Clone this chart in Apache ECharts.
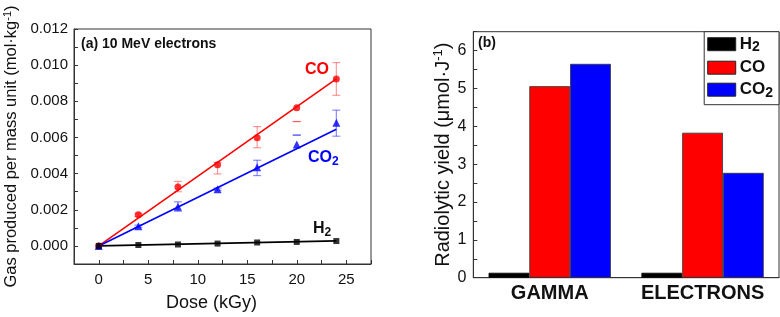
<!DOCTYPE html>
<html><head><meta charset="utf-8">
<script src="https://cdn.jsdelivr.net/npm/echarts@6/dist/echarts.min.js"></script>
<style>html,body{margin:0;padding:0;background:#fff}#c{width:780px;height:317px}</style>
</head><body><div id="c"></div>
<script>
// ---- Panel (a): gas produced vs dose ----
const doses = [0, 4, 8, 12, 16, 20, 24];
const coVals  = [0, 0.00172, 0.00326, 0.00449, 0.00598, 0.00764, 0.00924];
const co2Vals = [0, 0.00109, 0.00217, 0.00314, 0.00435, 0.00561, 0.00682];
const h2Vals  = [0, 0.00005, 0.00008, 0.00013, 0.00019, 0.00022, 0.00027];
// error bars [dose, low, high]
const coErr  = [[4,0.00163,0.00181],[8,0.00300,0.00357],[12,0.00398,0.00461],[16,0.00543,0.00660],[20,0.00688,0.00688],[24,0.00833,0.01014]];
const co2Err = [[4,0.00103,0.00115],[8,0.00192,0.00244],[12,0.00308,0.00320],[16,0.00389,0.00474],[20,0.00613,0.00613],[24,0.00607,0.00751]];
// linear fits [dose, value]
const coFit  = [[0,0],[24,0.00924]];
const co2Fit = [[0,0],[24,0.00645]];
const h2Fit  = [[0,0],[24,0.00028]];

// ---- Panel (b): radiolytic yield ----
const sources = ['GAMMA', 'ELECTRONS'];
const yieldH2  = [0.13, 0.13];
const yieldCO  = [5.06, 3.83];
const yieldCO2 = [5.65, 2.77];

const FONT = 'Liberation Sans, Arial, sans-serif';
const chart = echarts.init(document.getElementById('c'));

function pairs(xs, ys){ return xs.map((x,i)=>[x, ys[i]]); }
function errRender(color){
  return function(params, api){
    const x = api.value(0), lo = api.value(1), hi = api.value(2);
    const p1 = api.coord([x, hi]), p2 = api.coord([x, lo]);
    const w = 4;
    const st = {stroke: color, lineWidth: 1.2};
    const ch = [
      {type:'line', shape:{x1:p1[0]-w,y1:p1[1],x2:p1[0]+w,y2:p1[1]}, style:st},
      {type:'line', shape:{x1:p2[0]-w,y1:p2[1],x2:p2[0]+w,y2:p2[1]}, style:st}
    ];
    if (Math.abs(p1[1]-p2[1]) > 0.5) ch.push({type:'line', shape:{x1:p1[0],y1:p1[1],x2:p2[0],y2:p2[1]}, style:st});
    return {type:'group', children: ch};
  };
}

const axisCol = '#333';
const option = {
  animation: false,
  backgroundColor: '#fff',
  textStyle: {fontFamily: FONT},
  grid: [
    {left: 74, top: 29, right: 409, bottom: 48.7, show: true, borderColor: axisCol, borderWidth: 1, backgroundColor: 'transparent'},
    {left: 473.3, top: 31.7, right: 1, bottom: 39.3, show: true, borderColor: axisCol, borderWidth: 1, backgroundColor: 'transparent'}
  ],
  xAxis: [
    {type: 'value', gridIndex: 0, min: -2.5, max: 27.5, interval: 2.5,
     axisLine: {onZero: false, lineStyle: {color: axisCol}}, axisTick: {inside: true, length: 4, lineStyle:{color: axisCol}},
     splitLine: {show: false},
     axisLabel: {color: '#111', fontSize: 15, fontFamily: FONT, margin: 8,
       formatter: v => (v >= 0 && Math.abs(v % 5) < 1e-9) ? String(v) : ''},
     name: 'Dose (kGy)', nameLocation: 'middle', nameGap: 30,
     nameTextStyle: {fontSize: 18, color: '#111', fontFamily: FONT, padding: [0, 22, 0, 0]}},
    {type: 'category', gridIndex: 1, data: sources,
     axisLine: {onZero: false, lineStyle: {color: axisCol}}, axisTick: {inside: true, alignWithLabel: true, length: 4, lineStyle:{color: axisCol}},
     axisLabel: {interval: 0, color: '#111', fontSize: 20, fontWeight: 'bold', fontFamily: FONT, margin: 6}}
  ],
  yAxis: [
    {type: 'value', gridIndex: 0, min: -0.001, max: 0.012, interval: 0.001,
     axisLine: {show: true, onZero: false, lineStyle: {color: axisCol}}, axisTick: {show: true, inside: true, length: 4, lineStyle:{color: axisCol}},
     splitLine: {show: false},
     axisLabel: {color: '#111', fontSize: 15, fontFamily: FONT, margin: 6,
       formatter: v => { const k = Math.round(v*1000); return (k >= 0 && k % 2 === 0) ? (k/1000).toFixed(3) : ''; }},
     name: 'Gas produced per mass unit (mol·kg{sup|-1})', nameLocation: 'middle', nameGap: 53,
     nameTextStyle: {fontSize: 16.5, color: '#111', fontFamily: FONT,
       rich: {sup: {fontSize: 11, verticalAlign: 'top', padding: [0,0,8,0], color:'#111', fontFamily: FONT}}}},
    {type: 'value', gridIndex: 1, min: 0, max: 6.5, interval: 0.5,
     axisLine: {show: true, onZero: false, lineStyle: {color: axisCol}}, axisTick: {show: true, inside: true, length: 4, lineStyle:{color: axisCol}},
     splitLine: {show: false},
     axisLabel: {color: '#111', fontSize: 16, fontFamily: FONT, margin: 7,
       formatter: v => Number.isInteger(v) ? String(v) : ''},
     name: 'Radiolytic yield (μmol·J{sup|-1})', nameLocation: 'middle', nameGap: 14,
     nameTextStyle: {fontSize: 20, color: '#111', fontFamily: FONT,
       rich: {sup: {fontSize: 13, verticalAlign: 'top', padding: [0,0,10,0], color:'#111', fontFamily: FONT}}}}
  ],
  legend: {
    data: ['H2', 'CO', 'CO2'], orient: 'vertical', right: 1, top: 31.7,
    icon: 'rect', itemWidth: 28, itemHeight: 13, itemGap: 5,
    backgroundColor: '#fff', borderColor: axisCol, borderWidth: 1, padding: [4, 6, 5, 3],
    formatter: n => n === 'H2' ? 'H{s|2}' : (n === 'CO2' ? 'CO{s|2}' : 'CO'),
    textStyle: {fontSize: 17, fontWeight: 'bold', color: '#111', fontFamily: FONT, padding: [0,0,0,-1],
      rich: {s: {fontSize: 14, fontWeight: 'bold', verticalAlign: 'bottom', padding: [6,0,0,0], fontFamily: FONT, color: '#111'}}},
    itemStyle: {borderColor: '#222', borderWidth: 1}
  },
  graphic: [
    {type: 'text', left: 81, top: 37, style: {text: '(a) 10 MeV electrons', font: 'bold 14px Liberation Sans, Arial', fill: '#111'}},
    {type: 'text', left: 305, top: 62, style: {text: 'CO', font: 'bold 16px Liberation Sans, Arial', fill: '#ff0000'}},
    {type: 'text', left: 308, top: 150, style: {text: 'CO{s|2}', font: 'bold 16px Liberation Sans, Arial', fill: '#0000ff',
       rich: {s: {font: 'bold 12px Liberation Sans, Arial', fill: '#0000ff', verticalAlign: 'bottom', padding: [8,0,0,0]}}}},
    {type: 'text', left: 313, top: 221, style: {text: 'H{s|2}', font: 'bold 16px Liberation Sans, Arial', fill: '#111',
       rich: {s: {font: 'bold 12px Liberation Sans, Arial', fill: '#111', verticalAlign: 'bottom', padding: [8,0,0,0]}}}},
    {type: 'text', left: 478, top: 36, style: {text: '(b)', font: 'bold 14px Liberation Sans, Arial', fill: '#111'}}
  ],
  series: [
    {type: 'line', xAxisIndex: 0, yAxisIndex: 0, data: coFit, symbol: 'none', lineStyle: {color: '#ff0000', width: 1.6}, silent: true, z: 2},
    {type: 'line', xAxisIndex: 0, yAxisIndex: 0, data: co2Fit, symbol: 'none', lineStyle: {color: '#0000ff', width: 1.6}, silent: true, z: 2},
    {type: 'line', xAxisIndex: 0, yAxisIndex: 0, data: h2Fit, symbol: 'none', lineStyle: {color: '#000', width: 1.6}, silent: true, z: 2},
    {type: 'custom', xAxisIndex: 0, yAxisIndex: 0, data: coErr, renderItem: errRender('rgba(255,0,0,0.4)'), encode: {x: 0, y: [1, 2]}, z: 1},
    {type: 'custom', xAxisIndex: 0, yAxisIndex: 0, data: co2Err, renderItem: errRender('rgba(0,0,255,0.45)'), encode: {x: 0, y: [1, 2]}, z: 1},
    {type: 'scatter', xAxisIndex: 0, yAxisIndex: 0, data: pairs(doses, coVals), symbol: 'circle', symbolSize: 7, itemStyle: {color: '#ff0000'}, z: 3},
    {type: 'scatter', xAxisIndex: 0, yAxisIndex: 0, data: pairs(doses, co2Vals), symbol: 'triangle', symbolSize: 8, itemStyle: {color: '#0000ff'}, z: 3},
    {type: 'scatter', xAxisIndex: 0, yAxisIndex: 0, data: pairs(doses, h2Vals), symbol: 'rect', symbolSize: 6, itemStyle: {color: '#000'}, z: 3},
    {name: 'H2', type: 'bar', xAxisIndex: 1, yAxisIndex: 1, data: yieldH2, barGap: '0%', barCategoryGap: '20%', itemStyle: {color: '#000', borderColor: '#000', borderWidth: 0.8}},
    {name: 'CO', type: 'bar', xAxisIndex: 1, yAxisIndex: 1, data: yieldCO, barGap: '0%', barCategoryGap: '20%', itemStyle: {color: '#ff0000', borderColor: '#333', borderWidth: 0.8}},
    {name: 'CO2', type: 'bar', xAxisIndex: 1, yAxisIndex: 1, data: yieldCO2, barGap: '0%', barCategoryGap: '20%', itemStyle: {color: '#0000ff', borderColor: '#333', borderWidth: 0.8}}
  ]
};
chart.setOption(option);
</script></body></html>
